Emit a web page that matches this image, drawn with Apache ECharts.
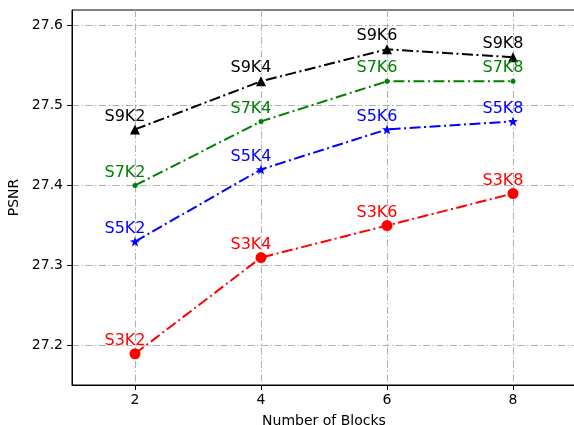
<!DOCTYPE html>
<html>
<head>
<meta charset="utf-8">
<script src="https://cdn.jsdelivr.net/npm/echarts@6/dist/echarts.min.js"></script>
<style>html,body{margin:0;padding:0;background:#fff;overflow:hidden}#c{width:574px;height:425px}</style>
</head>
<body>
<div id="c"></div>
<script>
const blocks = [2, 4, 6, 8];
const xTicks = [2, 4, 6, 8];
const yTicks = [27.2, 27.3, 27.4, 27.5, 27.6];
const s9 = [27.47, 27.53, 27.57, 27.56];
const s7 = [27.40, 27.48, 27.53, 27.53];
const s5 = [27.33, 27.42, 27.47, 27.48];
const s3 = [27.19, 27.31, 27.35, 27.39];
const s9Labels = ['S9K2', 'S9K4', 'S9K6', 'S9K8'];
const s7Labels = ['S7K2', 'S7K4', 'S7K6', 'S7K8'];
const s5Labels = ['S5K2', 'S5K4', 'S5K6', 'S5K8'];
const s3Labels = ['S3K2', 'S3K4', 'S3K6', 'S3K8'];

const FONT = 'DejaVu Sans';
const star = 'path://M0,-10 L2.35,-3.24 L9.51,-3.09 L3.8,1.24 L5.88,8.09 L0,4 L-5.88,8.09 L-3.8,1.24 L-9.51,-3.09 L-2.35,-3.24 Z';

function mk(name, vals, labels, color, symbol, size) {
  return {
    name: name,
    type: 'line',
    data: blocks.map((b, i) => [b, vals[i], labels[i]]),
    symbol: symbol,
    symbolSize: size,
    showAllSymbol: true,
    lineStyle: { color: color, width: 2, type: [11, 3.5, 2, 3.5] },
    itemStyle: { color: color },
    label: {
      show: true,
      position: 'inside',
      offset: [-10, -13],
      formatter: p => p.data[2],
      color: color,
      fontFamily: FONT,
      fontSize: 16
    },
    emphasis: { disabled: true },
    animation: false
  };
}

const chart = echarts.init(document.getElementById('c'), null, { renderer: 'canvas' });
chart.setOption({
  animation: false,
  grid: { left: 72, top: 10, width: 504, height: 375, outerBoundsMode: 'none', containLabel: false, show: true, borderColor: '#000', borderWidth: 1, backgroundColor: 'transparent' },
  xAxis: {
    type: 'value', min: 1, max: 9,
    name: 'Number of Blocks', nameLocation: 'middle', nameGap: 29,
    nameTextStyle: { fontFamily: FONT, fontSize: 14, color: '#000' },
    axisLine: { show: true, lineStyle: { color: '#000', width: 1 } },
    axisTick: { show: true, length: 5, inside: false, customValues: xTicks, lineStyle: { color: '#000' } },
    axisLabel: { customValues: xTicks, margin: 8, fontFamily: FONT, fontSize: 14, color: '#000' },
    splitLine: { show: true, lineStyle: { color: '#b0b0b0', width: 1, type: [7, 2.5, 1.5, 2.5] } }
  },
  yAxis: {
    type: 'value', min: 27.151, max: 27.619,
    name: 'PSNR', nameLocation: 'middle', nameGap: 45, nameRotate: 90,
    nameTextStyle: { fontFamily: FONT, fontSize: 14, color: '#000' },
    axisLine: { show: true, lineStyle: { color: '#000', width: 1 } },
    axisTick: { show: true, length: 5, inside: false, customValues: yTicks, lineStyle: { color: '#000' } },
    axisLabel: { customValues: yTicks, margin: 9, fontFamily: FONT, fontSize: 14, color: '#000', formatter: v => v.toFixed(1) },
    splitLine: { show: true, lineStyle: { color: '#b0b0b0', width: 1, type: [7, 2.5, 1.5, 2.5] } }
  },
  series: [
    mk('S9', s9, s9Labels, '#000000', 'triangle', 10),
    mk('S7', s7, s7Labels, '#008000', 'circle', 5),
    mk('S5', s5, s5Labels, '#0000ff', star, 10),
    mk('S3', s3, s3Labels, '#ff0000', 'circle', 11)
  ]
});
</script>
</body>
</html>
